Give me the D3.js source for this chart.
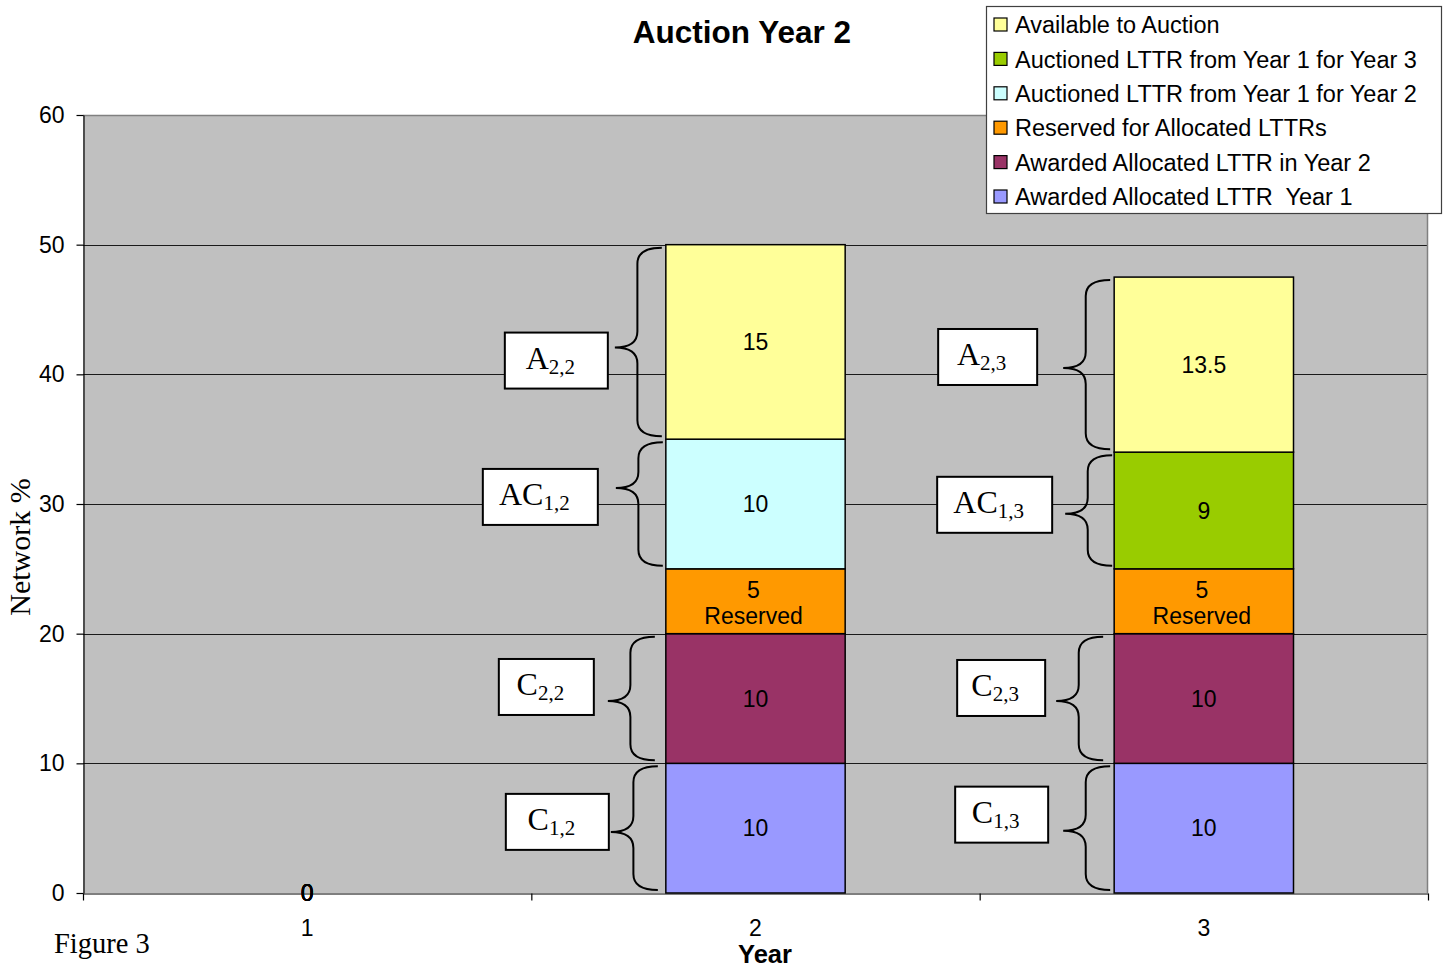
<!DOCTYPE html>
<html>
<head>
<meta charset="utf-8">
<script src="https://cdn.jsdelivr.net/npm/d3@7"></script>
<style>
  body { margin: 0; background: #fff; }
  svg text { font-family: "Liberation Sans", Arial, sans-serif; }
  svg text.serif { font-family: "Liberation Serif", "Times New Roman", serif; }
</style>
</head>
<body>
<svg id="chart" width="1449" height="967"></svg>
<script>
// ---- data ----
const years = ["1", "2", "3"];
const seriesNames = [
  "Awarded Allocated LTTR  Year 1",
  "Awarded Allocated LTTR in Year 2",
  "Reserved for Allocated LTTRs",
  "Auctioned LTTR from Year 1 for Year 2",
  "Auctioned LTTR from Year 1 for Year 3",
  "Available to Auction"
];
const awardedYear1      = [0, 10, 10];
const awardedYear2      = [0, 10, 10];
const reserved          = [0, 5, 5];
const auctionedForYear2 = [0, 10, null];
const auctionedForYear3 = [0, null, 9];
const availableToAuction = [0, 15, 13.5];
const seriesColors = ["#9999FF", "#993366", "#FF9900", "#CCFFFF", "#99CC00", "#FFFF99"];
const yTicks = [0, 10, 20, 30, 40, 50, 60];

// bracketed labels beside the stacked segments: series index + category
const annotations = [
  { main: "A",  sub: "2,2", year: "2", series: 5 },
  { main: "AC", sub: "1,2", year: "2", series: 3 },
  { main: "C",  sub: "2,2", year: "2", series: 1 },
  { main: "C",  sub: "1,2", year: "2", series: 0 },
  { main: "A",  sub: "2,3", year: "3", series: 5 },
  { main: "AC", sub: "1,3", year: "3", series: 4 },
  { main: "C",  sub: "2,3", year: "3", series: 1 },
  { main: "C",  sub: "1,3", year: "3", series: 0 }
];
// brace / box layout (pixels): inset from bar, tip position along the brace,
// gap between box and tip, vertical shift of box, box width
const annotationLayout = [
  { inset: 4,  tipAt: 0.53, gap: 7,  dy: 13,  w: 103 },
  { inset: 3,  tipAt: 0.37, gap: 18, dy: 9,   w: 115 },
  { inset: 11, tipAt: 0.52, gap: 14, dy: -14, w: 95 },
  { inset: 8,  tipAt: 0.53, gap: 2,  dy: -10, w: 103 },
  { inset: 4,  tipAt: 0.52, gap: 26, dy: -11, w: 99 },
  { inset: 2,  tipAt: 0.53, gap: 13, dy: -9,  w: 115 },
  { inset: 11, tipAt: 0.52, gap: 11, dy: -13, w: 88 },
  { inset: 4,  tipAt: 0.52, gap: 15, dy: -16, w: 93 }
];

const seriesValues = [awardedYear1, awardedYear2, reserved, auctionedForYear2, auctionedForYear3, availableToAuction];
const table = years.map((yr, i) => {
  const row = { year: yr };
  seriesValues.forEach((vals, s) => { row[s] = vals[i]; });
  return row;
});

// ---- layout ----
const svg = d3.select("#chart");
const plotLeft = 83, plotRight = 1428, plotTop = 115, plotBottom = 893;

const x = d3.scalePoint().domain(years).range([plotLeft, plotRight]).padding(0.5);
const xEdges = d3.scaleLinear().domain([0, years.length]).range([plotLeft, plotRight]);
const y = d3.scaleLinear().domain([0, 60]).range([plotBottom, plotTop]);
const barW = x.step() * 0.4;

// plot background
svg.append("rect").attr("x", plotLeft).attr("y", plotTop)
  .attr("width", plotRight - plotLeft).attr("height", plotBottom - plotTop)
  .attr("fill", "#C0C0C0");

// gridlines
svg.append("g").selectAll("line")
  .data(yTicks.filter(v => v > 0 && v < 60))
  .join("line")
  .attr("x1", plotLeft).attr("x2", plotRight)
  .attr("y1", d => Math.round(y(d)) + 0.5).attr("y2", d => Math.round(y(d)) + 0.5)
  .attr("stroke", "#1a1a1a").attr("stroke-width", 1);

// plot border (top & right)
svg.append("path")
  .attr("d", `M${plotLeft},${Math.round(y(60)) + 0.5}H${plotRight - 0.5}V${plotBottom}`)
  .attr("fill", "none").attr("stroke", "#808080").attr("stroke-width", 1.5);

// stacked bars
const stack = d3.stack()
  .keys(d3.range(seriesNames.length))
  .value((d, k) => d[k] == null ? 0 : d[k]);
const stacked = stack(table);

const barG = svg.append("g");
stacked.forEach((layer, s) => {
  barG.selectAll(null)
    .data(layer.filter(d => d.data[s] != null && d[1] > d[0]))
    .join("rect")
    .attr("x", d => x(d.data.year) - barW / 2)
    .attr("y", d => y(d[1]))
    .attr("width", barW)
    .attr("height", d => y(d[0]) - y(d[1]))
    .attr("fill", seriesColors[s])
    .attr("stroke", "#000").attr("stroke-width", 1.5);
});

// axes
const yAxis = d3.axisLeft(y).tickValues(yTicks).tickSize(7).tickSizeOuter(0).tickPadding(12);
const yG = svg.append("g").attr("transform", `translate(${plotLeft + 0.5},0)`).call(yAxis);
yG.select(".domain").attr("stroke", "#000").attr("stroke-width", 1.2);
yG.selectAll(".tick line").attr("stroke", "#000").attr("stroke-width", 1.2);
yG.selectAll(".tick text").attr("font-size", 23).attr("fill", "#000")
  .attr("font-family", "Liberation Sans, Arial, sans-serif");

const xAxis = d3.axisBottom(xEdges).tickValues(d3.range(years.length + 1)).tickSize(7).tickSizeOuter(0).tickFormat("");
const xG = svg.append("g").attr("transform", `translate(0,${plotBottom + 0.5})`).call(xAxis);
xG.select(".domain").attr("stroke", "#000").attr("stroke-width", 1.2);
xG.selectAll(".tick line").attr("stroke", "#000").attr("stroke-width", 1.2);

svg.append("g").selectAll("text")
  .data(years).join("text")
  .attr("x", d => x(d)).attr("y", 936)
  .attr("text-anchor", "middle").attr("font-size", 23).attr("fill", "#000")
  .text(d => d);

// value labels
const labelG = svg.append("g");
stacked.forEach((layer, s) => {
  layer.filter(d => d.data[s] != null).forEach(d => {
    const cx = x(d.data.year);
    const cy = (y(d[0]) + y(d[1])) / 2;
    const t = labelG.append("text")
      .attr("text-anchor", "middle").attr("font-size", 23).attr("fill", "#000");
    if (s === 2 && d.data[s] > 0) {
      t.append("tspan").attr("x", cx - 2).attr("y", cy - 3).text(d.data[s]);
      t.append("tspan").attr("x", cx - 2).attr("y", cy + 23).text("Reserved");
    } else {
      t.attr("x", cx).attr("y", cy).attr("dy", "0.35em").text(d.data[s]);
    }
  });
});

// braces and boxed labels
function bracePath(xr, y0, y1, yt, w) {
  const xm = xr - w * 0.52, xt = xr - w, r = 16;
  return `M${xr},${y0} Q${xm},${y0} ${xm},${y0 + r} L${xm},${yt - r} Q${xm},${yt} ${xt},${yt}` +
         ` Q${xm},${yt} ${xm},${yt + r} L${xm},${y1 - r} Q${xm},${y1} ${xr},${y1}`;
}
const annG = svg.append("g");
annotations.forEach((a, i) => {
  const L = annotationLayout[i];
  const seg = stacked[a.series].find(d => d.data.year === a.year);
  const y0 = y(seg[1]) + 3, y1 = y(seg[0]) - 3;
  const xr = x(a.year) - barW / 2 - L.inset;
  const braceW = 47;
  const yt = y0 + (y1 - y0) * L.tipAt;
  annG.append("path")
    .attr("d", bracePath(xr, y0, y1, yt, braceW))
    .attr("fill", "none").attr("stroke", "#000").attr("stroke-width", 2);
  const bx1 = xr - braceW - L.gap, bx0 = bx1 - L.w;
  const bcy = yt + L.dy, bh = 56;
  annG.append("rect")
    .attr("x", bx0).attr("y", bcy - bh / 2).attr("width", L.w).attr("height", bh)
    .attr("fill", "#fff").attr("stroke", "#000").attr("stroke-width", 2);
  const t = annG.append("text").attr("class", "serif")
    .attr("x", (bx0 + bx1) / 2 - 6).attr("y", bcy + 8)
    .attr("text-anchor", "middle").attr("fill", "#000");
  t.append("tspan").attr("font-size", 32).text(a.main);
  t.append("tspan").attr("font-size", 21).attr("dy", 5).text(a.sub);
});

// titles
svg.append("text").attr("x", 742).attr("y", 43)
  .attr("text-anchor", "middle").attr("font-size", 31.5).attr("font-weight", "bold")
  .text("Auction Year 2");
svg.append("text").attr("x", 765).attr("y", 963)
  .attr("text-anchor", "middle").attr("font-size", 25.5).attr("font-weight", "bold")
  .text("Year");
svg.append("text").attr("class", "serif")
  .attr("transform", "translate(30,547) rotate(-90)")
  .attr("text-anchor", "middle").attr("font-size", 30)
  .text("Network %");
svg.append("text").attr("class", "serif").attr("x", 54).attr("y", 953)
  .attr("font-size", 28.5).text("Figure 3");

// legend
const legendX = 986.5, legendY = 6.5, legendW = 455, legendH = 207;
const legend = svg.append("g");
legend.append("rect").attr("x", legendX).attr("y", legendY)
  .attr("width", legendW).attr("height", legendH)
  .attr("fill", "#fff").attr("stroke", "#404040").attr("stroke-width", 1.2);
const legendOrder = d3.range(seriesNames.length).reverse();
legendOrder.forEach((s, i) => {
  const cy = 25 + i * 34.4;
  legend.append("rect").attr("x", 994).attr("y", cy - 7).attr("width", 13).attr("height", 13)
    .attr("fill", seriesColors[s]).attr("stroke", "#000").attr("stroke-width", 1.2);
  legend.append("text").attr("x", 1015).attr("y", cy).attr("dy", "0.35em")
    .attr("font-size", 23.5).style("white-space", "pre")
    .text(seriesNames[s]);
});
</script>
</body>
</html>
